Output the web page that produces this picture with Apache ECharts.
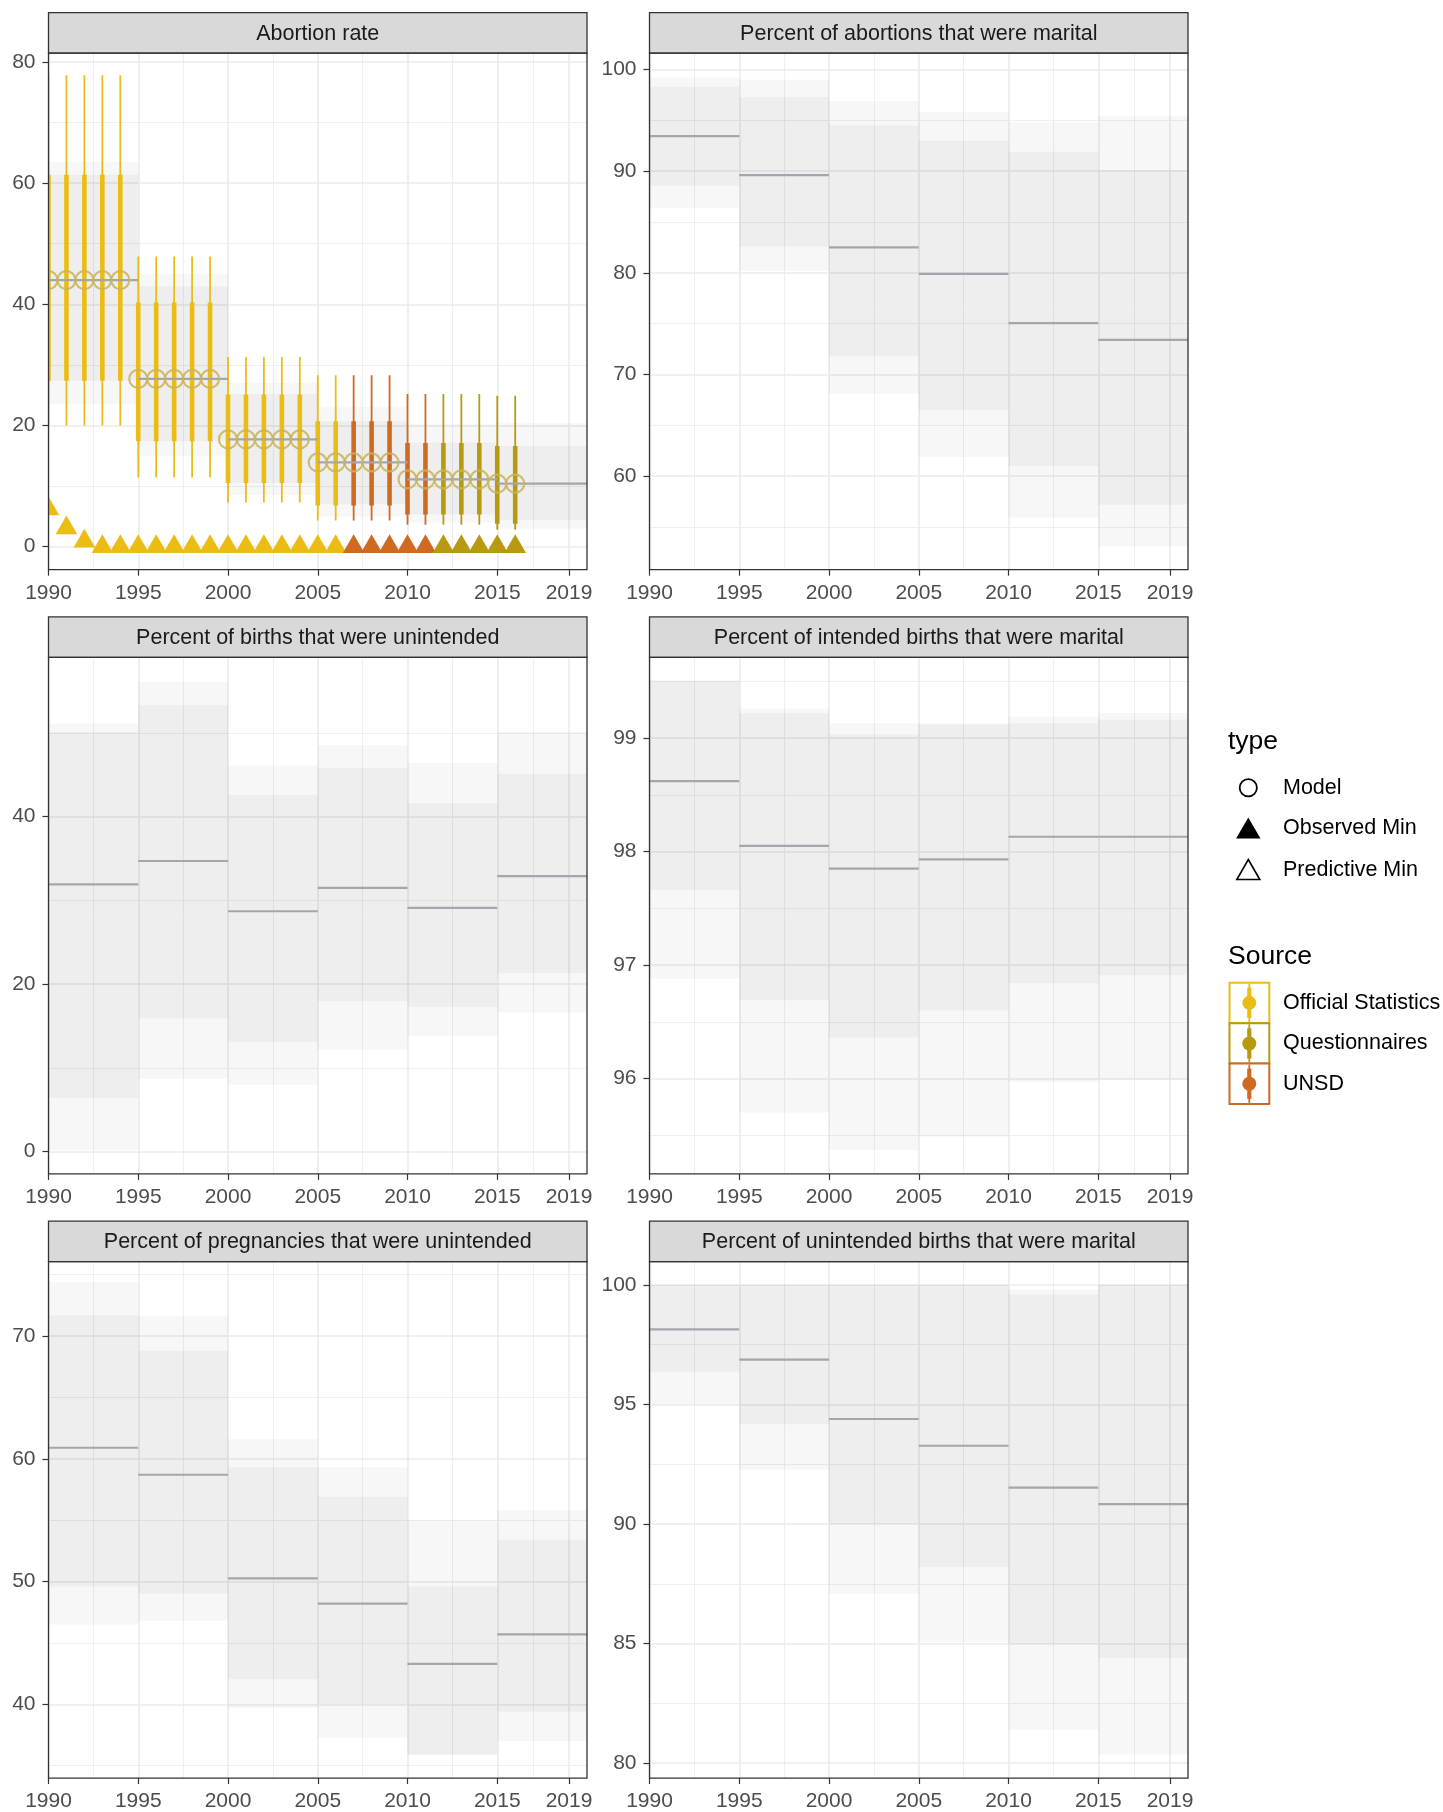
<!DOCTYPE html>
<html>
<head>
<meta charset="utf-8">
<title>Abortion and pregnancy intention panels</title>
<script src="https://cdn.jsdelivr.net/npm/echarts@6.0.0/dist/echarts.min.js"></script>
<style>
html,body{margin:0;padding:0;background:#ffffff;}
#chart{width:1443px;height:1812px;}
</style>
</head>
<body>
<div id="chart"></div>
<script>
// ================= DATA =================
const panelTitles = [
  "Abortion rate",
  "Percent of abortions that were marital",
  "Percent of births that were unintended",
  "Percent of intended births that were marital",
  "Percent of pregnancies that were unintended",
  "Percent of unintended births that were marital"
];

const xTickYears  = [1990, 1995, 2000, 2005, 2010, 2015, 2019];
const xMinorYears = [1992.5, 1997.5, 2002.5, 2007.5, 2012.5, 2017];

const periodStart = [1990, 1995, 2000, 2005, 2010, 2015];
const periodEnd   = [1995, 2000, 2005, 2010, 2015, 2020];

// --- Panel 1: Abortion rate (model bands by period) ---
const abortionRateTicks      = [0, 20, 40, 60, 80];
const abortionRateMinorTicks = [10, 30, 50, 70];
const abortionRateYRange     = [-3.8, 81.45];
const abortionRateMedian     = [44.0, 27.7, 17.7, 13.9, 11.1, 10.4];
const abortionRateInnerLow   = [27.4, 17.4, 10.5, 7.0, 5.3, 4.4];
const abortionRateInnerHigh  = [61.4, 43.0, 25.2, 20.7, 17.2, 16.6];
const abortionRateOuterLow   = [23.5, 15.0, 8.5, 5.0, 4.0, 3.0];
const abortionRateOuterHigh  = [63.5, 45.0, 27.0, 23.0, 20.2, 20.4];

// --- Panel 1: yearly observations ---
const abortionYears = [1990,1991,1992,1993,1994,1995,1996,1997,1998,1999,2000,2001,2002,2003,2004,2005,2006,2007,2008,2009,2010,2011,2012,2013,2014,2015,2016];
const abortionYearSource = [
  "Official Statistics","Official Statistics","Official Statistics","Official Statistics","Official Statistics",
  "Official Statistics","Official Statistics","Official Statistics","Official Statistics","Official Statistics",
  "Official Statistics","Official Statistics","Official Statistics","Official Statistics","Official Statistics",
  "Official Statistics","Official Statistics","UNSD","UNSD","UNSD",
  "UNSD","UNSD","Questionnaires","Questionnaires","Questionnaires",
  "Questionnaires","Questionnaires"
];
const abortionModel    = [44.0,44.0,44.0,44.0,44.0, 27.7,27.7,27.7,27.7,27.7, 17.7,17.7,17.7,17.7,17.7, 13.9,13.9,13.9,13.9,13.9, 11.1,11.1,11.1,11.1,11.1, 10.4,10.4];
const abortionOuterLow = [20.0,20.0,20.0,20.0,20.0, 11.4,11.4,11.4,11.4,11.4, 7.3,7.3,7.3,7.3,7.3, 4.3,4.3,4.3,4.3,4.3, 3.6,3.6,3.6,3.6,3.6, 2.8,2.8];
const abortionOuterHigh= [77.8,77.8,77.8,77.8,77.8, 47.9,47.9,47.9,47.9,47.9, 31.3,31.3,31.3,31.3,31.3, 28.3,28.3,28.3,28.3,28.3, 25.2,25.2,25.2,25.2,25.2, 24.9,24.9];
const abortionInnerLow = [27.4,27.4,27.4,27.4,27.4, 17.4,17.4,17.4,17.4,17.4, 10.5,10.5,10.5,10.5,10.5, 6.8,6.8,6.8,6.8,6.8, 5.3,5.3,5.3,5.3,5.3, 3.8,3.8];
const abortionInnerHigh= [61.4,61.4,61.4,61.4,61.4, 40.3,40.3,40.3,40.3,40.3, 25.1,25.1,25.1,25.1,25.1, 20.7,20.7,20.7,20.7,20.7, 17.1,17.1,17.1,17.1,17.1, 16.6,16.6];
const abortionObservedMin = [6.2,3.1,0.9,0,0, 0,0,0,0,0, 0,0,0,0,0, 0,0,0,0,0, 0,0,0,0,0, 0,0];

const sourceNames  = ["Official Statistics", "Questionnaires", "UNSD"];
const sourceColors = ["#EBBD14", "#B89A12", "#CF6A22"];

// --- Panel 2: Percent of abortions that were marital ---
const maritalAbortionTicks      = [60, 70, 80, 90, 100];
const maritalAbortionMinorTicks = [55, 65, 75, 85, 95];
const maritalAbortionYRange     = [50.8, 101.6];
const maritalAbortionMedian     = [93.45, 89.6, 82.5, 79.9, 75.05, 73.4];
const maritalAbortionInnerLow   = [88.6, 82.6, 71.8, 66.5, 61.0, 57.2];
const maritalAbortionInnerHigh  = [98.3, 97.3, 94.5, 93.0, 91.9, 90.1];
const maritalAbortionOuterLow   = [86.4, 80.2, 68.1, 61.9, 55.9, 53.1];
const maritalAbortionOuterHigh  = [99.2, 99.0, 96.9, 95.8, 94.8, 95.4];

// --- Panel 3: Percent of births that were unintended ---
const unintBirthTicks      = [0, 20, 40];
const unintBirthMinorTicks = [10, 30, 50];
const unintBirthYRange     = [-2.65, 59.0];
const unintBirthMedian     = [31.9, 34.7, 28.7, 31.5, 29.1, 32.9];
const unintBirthInnerLow   = [6.4, 15.9, 13.1, 18.0, 17.3, 21.3];
const unintBirthInnerHigh  = [50.1, 53.3, 42.6, 45.8, 41.6, 45.1];
const unintBirthOuterLow   = [0.2, 8.7, 8.0, 12.2, 13.8, 16.6];
const unintBirthOuterHigh  = [51.1, 56.1, 46.1, 48.5, 46.4, 50.1];

// --- Panel 4: Percent of intended births that were marital ---
const intMaritalTicks      = [96, 97, 98, 99];
const intMaritalMinorTicks = [95.5, 96.5, 97.5, 98.5, 99.5];
const intMaritalYRange     = [95.16, 99.71];
const intMaritalMedian     = [98.62, 98.05, 97.85, 97.93, 98.13, 98.13];
const intMaritalInnerLow   = [97.66, 96.69, 96.36, 96.60, 96.84, 96.91];
const intMaritalInnerHigh  = [99.50, 99.22, 99.03, 99.12, 99.13, 99.16];
const intMaritalOuterLow   = [96.88, 95.70, 95.37, 95.49, 95.97, 95.99];
const intMaritalOuterHigh  = [99.51, 99.26, 99.13, 99.13, 99.19, 99.22];

// --- Panel 5: Percent of pregnancies that were unintended ---
const unintPregTicks      = [40, 50, 60, 70];
const unintPregMinorTicks = [35, 45, 55, 65, 75];
const unintPregYRange     = [34.0, 76.06];
const unintPregMedian     = [60.9, 58.7, 50.26, 48.2, 43.3, 45.7];
const unintPregInnerLow   = [49.6, 49.0, 42.05, 40.0, 35.9, 39.4];
const unintPregInnerHigh  = [71.7, 68.8, 59.3, 56.9, 49.6, 53.4];
const unintPregOuterLow   = [46.5, 46.8, 39.7, 37.3, 35.9, 37.0];
const unintPregOuterHigh  = [74.4, 71.6, 61.6, 59.3, 55.0, 55.8];

// --- Panel 6: Percent of unintended births that were marital ---
const unintMaritalTicks      = [80, 85, 90, 95, 100];
const unintMaritalMinorTicks = [82.5, 87.5, 92.5, 97.5];
const unintMaritalYRange     = [79.38, 100.97];
const unintMaritalMedian     = [98.14, 96.87, 94.39, 93.27, 91.52, 90.83];
const unintMaritalInnerLow   = [96.37, 94.17, 90.0, 88.2, 84.98, 84.4];
const unintMaritalInnerHigh  = [100, 100, 100, 100, 99.6, 100];
const unintMaritalOuterLow   = [95.0, 92.27, 87.08, 85.06, 81.4, 80.36];
const unintMaritalOuterHigh  = [100, 100, 100, 100, 99.8, 100];

// ================= LAYOUT / STYLE =================
const FONT = '"Liberation Sans", Arial, Helvetica, sans-serif';
const LAYOUT = { colLeft: [48.5, 649.5], panelW: 538.5, stripTop: [12.7, 616.9, 1221.1], stripH: 40.5, panelH: 516.5 };
const GRID_COLOR = '#EBEBEB';
const DARK = '#333333';

const panels = [
  { ticks: abortionRateTicks, minor: abortionRateMinorTicks, yr: abortionRateYRange, med: abortionRateMedian, iLo: abortionRateInnerLow, iHi: abortionRateInnerHigh, oLo: abortionRateOuterLow, oHi: abortionRateOuterHigh },
  { ticks: maritalAbortionTicks, minor: maritalAbortionMinorTicks, yr: maritalAbortionYRange, med: maritalAbortionMedian, iLo: maritalAbortionInnerLow, iHi: maritalAbortionInnerHigh, oLo: maritalAbortionOuterLow, oHi: maritalAbortionOuterHigh },
  { ticks: unintBirthTicks, minor: unintBirthMinorTicks, yr: unintBirthYRange, med: unintBirthMedian, iLo: unintBirthInnerLow, iHi: unintBirthInnerHigh, oLo: unintBirthOuterLow, oHi: unintBirthOuterHigh },
  { ticks: intMaritalTicks, minor: intMaritalMinorTicks, yr: intMaritalYRange, med: intMaritalMedian, iLo: intMaritalInnerLow, iHi: intMaritalInnerHigh, oLo: intMaritalOuterLow, oHi: intMaritalOuterHigh },
  { ticks: unintPregTicks, minor: unintPregMinorTicks, yr: unintPregYRange, med: unintPregMedian, iLo: unintPregInnerLow, iHi: unintPregInnerHigh, oLo: unintPregOuterLow, oHi: unintPregOuterHigh },
  { ticks: unintMaritalTicks, minor: unintMaritalMinorTicks, yr: unintMaritalYRange, med: unintMaritalMedian, iLo: unintMaritalInnerLow, iHi: unintMaritalInnerHigh, oLo: unintMaritalOuterLow, oHi: unintMaritalOuterHigh }
];

function makeBand(fill) {
  return function (params, api) {
    const a = api.coord([api.value(0), api.value(3)]);
    const b = api.coord([api.value(1), api.value(2)]);
    return { type: 'rect', shape: { x: a[0], y: a[1], width: b[0] - a[0], height: b[1] - a[1] }, style: { fill: fill } };
  };
}
function medianRender(params, api) {
  const a = api.coord([api.value(0), api.value(2)]);
  const b = api.coord([api.value(1), api.value(2)]);
  return { type: 'line', shape: { x1: a[0], y1: a[1], x2: b[0], y2: b[1] }, style: { stroke: '#A3A6AA', lineWidth: 2.2 } };
}
function errorBarRender(params, api) {
  const x = api.value(0);
  const col = sourceColors[api.value(5)];
  const t0 = api.coord([x, api.value(1)]), t1 = api.coord([x, api.value(2)]);
  const k0 = api.coord([x, api.value(3)]), k1 = api.coord([x, api.value(4)]);
  return { type: 'group', children: [
    { type: 'line', shape: { x1: t0[0], y1: t0[1], x2: t1[0], y2: t1[1] }, style: { stroke: col, lineWidth: 1.8 } },
    { type: 'line', shape: { x1: k0[0], y1: k0[1], x2: k1[0], y2: k1[1] }, style: { stroke: col, lineWidth: 4.6 } }
  ]};
}
function circleRender(params, api) {
  const c = api.coord([api.value(0), api.value(1)]);
  return { type: 'circle', shape: { cx: c[0], cy: c[1], r: 9 }, style: { fill: 'none', stroke: 'rgba(200,180,90,0.85)', lineWidth: 2.2 } };
}
function triangleRender(params, api) {
  const c = api.coord([api.value(0), api.value(1)]);
  const r = 12.5, xc = r * Math.sqrt(3) / 2;
  return { type: 'polygon', shape: { points: [[c[0], c[1] - r], [c[0] + xc, c[1] + r / 2], [c[0] - xc, c[1] + r / 2]] }, style: { fill: sourceColors[api.value(2)] } };
}

const grids = [], xAxes = [], yAxes = [], series = [], graphics = [];
const labelStyle = { fontSize: 21, color: '#4D4D4D', fontFamily: FONT };

panels.forEach((p, i) => {
  const col = i % 2, row = Math.floor(i / 2);
  const left = LAYOUT.colLeft[col];
  const stripTop = LAYOUT.stripTop[row];
  const top = stripTop + LAYOUT.stripH;
  grids.push({ left: left, top: top, width: LAYOUT.panelW, height: LAYOUT.panelH, show: false });

  xAxes.push({ gridIndex: i, type: 'value', min: 1990, max: 2020, position: 'bottom',
    axisLine: { show: false, onZero: false },
    axisTick: { show: true, inside: false, customValues: xTickYears, length: 6, lineStyle: { color: DARK, width: 1.2 } },
    axisLabel: Object.assign({ customValues: xTickYears, margin: 13, formatter: v => String(v) }, labelStyle),
    splitLine: { show: true, lineStyle: { color: GRID_COLOR, width: 1.6 } } });
  xAxes.push({ gridIndex: i, type: 'value', min: 1990, max: 2020, position: 'top',
    axisLine: { show: false, onZero: false }, axisTick: { show: false, customValues: xMinorYears },
    axisLabel: { show: false, customValues: xMinorYears },
    splitLine: { show: true, lineStyle: { color: GRID_COLOR, width: 0.8 } } });

  yAxes.push({ gridIndex: i, type: 'value', min: p.yr[0], max: p.yr[1], position: 'left',
    axisLine: { show: false, onZero: false },
    axisTick: { show: true, inside: false, customValues: p.ticks, length: 6, lineStyle: { color: DARK, width: 1.2 } },
    axisLabel: Object.assign({ customValues: p.ticks, margin: 13, formatter: v => String(v) }, labelStyle),
    splitLine: { show: true, lineStyle: { color: GRID_COLOR, width: 1.6 } } });
  yAxes.push({ gridIndex: i, type: 'value', min: p.yr[0], max: p.yr[1], position: 'right',
    axisLine: { show: false, onZero: false }, axisTick: { show: false, customValues: p.minor },
    axisLabel: { show: false, customValues: p.minor },
    splitLine: { show: true, lineStyle: { color: GRID_COLOR, width: 0.8 } } });

  const xi = 2 * i, yi = 2 * i;
  const outer = periodStart.map((s, k) => [s, periodEnd[k], p.oLo[k], p.oHi[k]]);
  const inner = periodStart.map((s, k) => [s, periodEnd[k], p.iLo[k], p.iHi[k]]);
  const meds  = periodStart.map((s, k) => [s, periodEnd[k], p.med[k]]);

  series.push({ type: 'custom', name: 'outer' + i, xAxisIndex: xi, yAxisIndex: yi, clip: true, z: 1,
    renderItem: makeBand('rgba(0,0,0,0.03)'), encode: { x: [0, 1], y: [2, 3] }, data: outer });
  series.push({ type: 'custom', name: 'inner' + i, xAxisIndex: xi, yAxisIndex: yi, clip: true, z: 2,
    renderItem: makeBand('rgba(0,0,0,0.036)'), encode: { x: [0, 1], y: [2, 3] }, data: inner });

  if (i === 0) {
    const bars = abortionYears.map((y, k) => [y, abortionOuterLow[k], abortionOuterHigh[k], abortionInnerLow[k], abortionInnerHigh[k], sourceNames.indexOf(abortionYearSource[k])]);
    series.push({ type: 'custom', name: 'Source bars', xAxisIndex: xi, yAxisIndex: yi, clip: true, z: 3,
      renderItem: errorBarRender, encode: { x: 0, y: [1, 2] }, data: bars });
  }

  series.push({ type: 'custom', name: 'median' + i, xAxisIndex: xi, yAxisIndex: yi, clip: true, z: 4,
    renderItem: medianRender, encode: { x: [0, 1], y: 2 }, data: meds });

  if (i === 0) {
    series.push({ type: 'custom', name: 'Model', xAxisIndex: xi, yAxisIndex: yi, clip: true, z: 5,
      renderItem: circleRender, encode: { x: 0, y: 1 }, data: abortionYears.map((y, k) => [y, abortionModel[k]]) });
    series.push({ type: 'custom', name: 'Observed Min', xAxisIndex: xi, yAxisIndex: yi, clip: true, z: 6,
      renderItem: triangleRender, encode: { x: 0, y: 1 },
      data: abortionYears.map((y, k) => [y, abortionObservedMin[k], sourceNames.indexOf(abortionYearSource[k])]) });
  }

  // strip + panel border
  graphics.push({ type: 'rect', z: 100, shape: { x: left, y: stripTop, width: LAYOUT.panelW, height: LAYOUT.stripH },
    style: { fill: '#D9D9D9', stroke: DARK, lineWidth: 1.3 } });
  graphics.push({ type: 'text', z: 101, x: left + LAYOUT.panelW / 2, y: stripTop + LAYOUT.stripH / 2 + 1,
    style: { text: panelTitles[i], font: '21.5px ' + FONT, fill: '#1A1A1A', align: 'center', verticalAlign: 'middle', textAlign: 'center', textVerticalAlign: 'middle' } });
  graphics.push({ type: 'rect', z: 100, shape: { x: left, y: top, width: LAYOUT.panelW, height: LAYOUT.panelH },
    style: { fill: 'none', stroke: DARK, lineWidth: 1.3 } });
});

// ================= LEGEND (graphic) =================
function txt(x, y, s, size) {
  return { type: 'text', z: 101, x: x, y: y, style: { text: s, font: size + 'px ' + FONT, fill: '#000000', align: 'left', verticalAlign: 'middle', textAlign: 'left', textVerticalAlign: 'middle' } };
}
const LX = 1248.3, TX = 1283;
graphics.push(txt(1228, 741.5, 'type', 26.5));
graphics.push({ type: 'circle', z: 101, shape: { cx: LX, cy: 787.8, r: 8.6 }, style: { fill: 'none', stroke: '#000', lineWidth: 1.8 } });
graphics.push(txt(TX, 787.8, 'Model', 21.5));
graphics.push({ type: 'polygon', z: 101, shape: { points: [[LX, 817.5], [LX + 12.2, 838.5], [LX - 12.2, 838.5]] }, style: { fill: '#000' } });
graphics.push(txt(TX, 828.3, 'Observed Min', 21.5));
graphics.push({ type: 'polygon', z: 101, shape: { points: [[LX, 859.5], [LX + 11.5, 879.5], [LX - 11.5, 879.5]] }, style: { fill: 'none', stroke: '#000', lineWidth: 1.6 } });
graphics.push(txt(TX, 869.8, 'Predictive Min', 21.5));
graphics.push(txt(1228, 956.5, 'Source', 26.5));
const keyTops = [982.7, 1023.3, 1063.6];
sourceNames.forEach((name, k) => {
  const y0 = keyTops[k], h = 40.3, cx = 1249.3, cy = y0 + h / 2;
  graphics.push({ type: 'rect', z: 100, shape: { x: 1229.5, y: y0, width: 39.8, height: h }, style: { fill: '#ffffff', stroke: sourceColors[k], lineWidth: 2 } });
  graphics.push({ type: 'line', z: 101, shape: { x1: cx, y1: y0 + 1, x2: cx, y2: y0 + h - 1 }, style: { stroke: sourceColors[k], lineWidth: 1.8 } });
  graphics.push({ type: 'line', z: 101, shape: { x1: cx, y1: y0 + 5, x2: cx, y2: y0 + h - 5 }, style: { stroke: sourceColors[k], lineWidth: 4.2 } });
  graphics.push({ type: 'circle', z: 102, shape: { cx: cx, cy: cy, r: 7 }, style: { fill: sourceColors[k] } });
  graphics.push(txt(TX, cy, name, 21.5));
});

const chart = echarts.init(document.getElementById('chart'), null, { renderer: 'canvas' });
chart.setOption({
  backgroundColor: '#ffffff',
  animation: false,
  grid: grids,
  xAxis: xAxes,
  yAxis: yAxes,
  series: series,
  graphic: { elements: graphics }
});
</script>
</body>
</html>
